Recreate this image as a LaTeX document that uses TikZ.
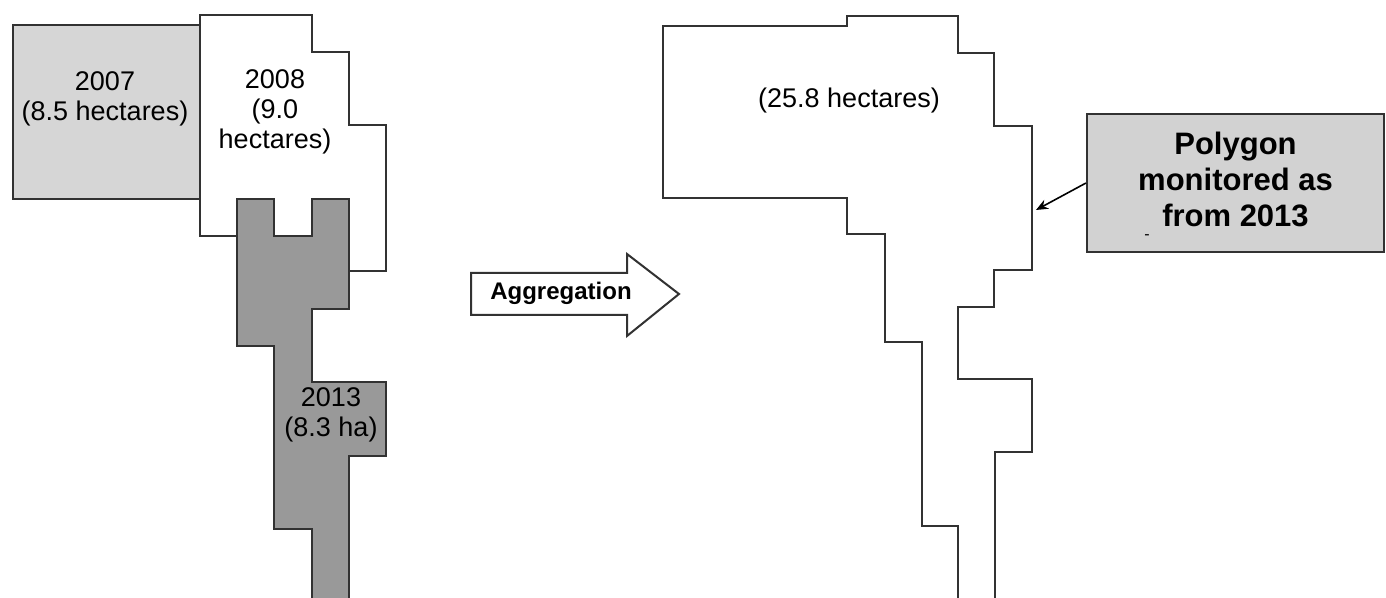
\documentclass[tikz,border=0pt]{standalone}
\usepackage{fontspec}
\setmainfont{Liberation Sans}
\usepackage{tikz}
\usetikzlibrary{arrows.meta}
\usepackage{xcolor}
\definecolor{edgegray}{RGB}{50,50,50}
\definecolor{lightfill}{RGB}{214,214,214}
\definecolor{darkfill}{RGB}{153,153,153}
\definecolor{boxfill}{RGB}{210,210,210}

\begin{document}
\begin{tikzpicture}[x=0.5pt, y=-0.5pt,
		parcel/.style={draw=edgegray, line width=1pt, line join=miter},
		lbl/.style={inner sep=0pt, font=\fontsize{13.5}{15}\selectfont},
		monbox/.style={draw=edgegray, fill=boxfill, line width=1pt, minimum width=148.5pt, minimum height=69pt, inner sep=0pt, font=\fontsize{15.5}{18}\selectfont\bfseries}]
		\useasboundingbox (0,0) rectangle (1386,598);
		\clip (0,0) rectangle (1386,598);
%		\draw[step=37.25, very thin, gray] (0,0) grid (1386,598);
		% left side: the three yearly polygons
		\draw[parcel, fill=lightfill] (13,25) rectangle (200,199);
		\draw[parcel, fill=white] (200,15) -- (312,15) -- (312,52) -- (349,52) -- (349,125) -- (386,125) -- (386,271) -- (349,271) -- (349,236) -- (200,236) -- cycle;
		\draw[parcel, fill=darkfill] (237,199) -- (274,199) -- (274,236) -- (312,236) -- (312,199) -- (349,199) -- (349,309) -- (312,309) -- (312,382) -- (386,382) -- (386,456) -- (349,456) -- (349,610) -- (312,610) -- (312,529) -- (274,529) -- (274,346) -- (237,346) -- cycle;
		\node[lbl] (y2007) at (105,100){\begin{tabular}{c}
			2007\\
			(8.5 hectares)
			\end{tabular}};
		\node[lbl] (y2008) at (275,113){\begin{tabular}{c}
			2008\\
			(9.0\\
			hectares)
			\end{tabular}};
		\node[lbl] (y2013) at (331,416){\begin{tabular}{c}
			2013\\
			(8.3 ha)
			\end{tabular}};
		% aggregation arrow
		\draw[parcel, fill=white] (471,273) -- (627,273) -- (627,254) -- (679,294) -- (627,336) -- (627,315) -- (471,315) -- cycle;
		\node[inner sep=0pt, font=\fontsize{12}{14}\selectfont\bfseries] (agg) at (561,293){Aggregation};
		% right side: aggregated polygon
		\draw[parcel] (663,26) -- (847,26) -- (847,16) -- (958,16) -- (958,53) -- (994,53) -- (994,126) -- (1032,126) -- (1032,270) -- (994,270) -- (994,307) -- (958,307) -- (958,379) -- (1032,379) -- (1032,452) -- (995,452) -- (995,610) -- (958,610) -- (958,526) -- (922,526) -- (922,342) -- (885,342) -- (885,234) -- (847,234) -- (847,198) -- (663,198) -- cycle;
		\node[lbl] (total) at (849,101){(25.8 hectares)};
		\node[monbox] (mon) at (1235.5,183){\begin{tabular}{c}
			Polygon\\
			monitored as\\
			from 2013
			\end{tabular}};
		\node[inner sep=0pt, font=\footnotesize] (dash) at (1147,237){-};
		\coordinate (edge) at (1036,210);
		\draw[-{Stealth[length=6pt, width=5pt]}, line width=0.8pt] (mon.west) -- (edge);
	\end{tikzpicture}
\end{document}
